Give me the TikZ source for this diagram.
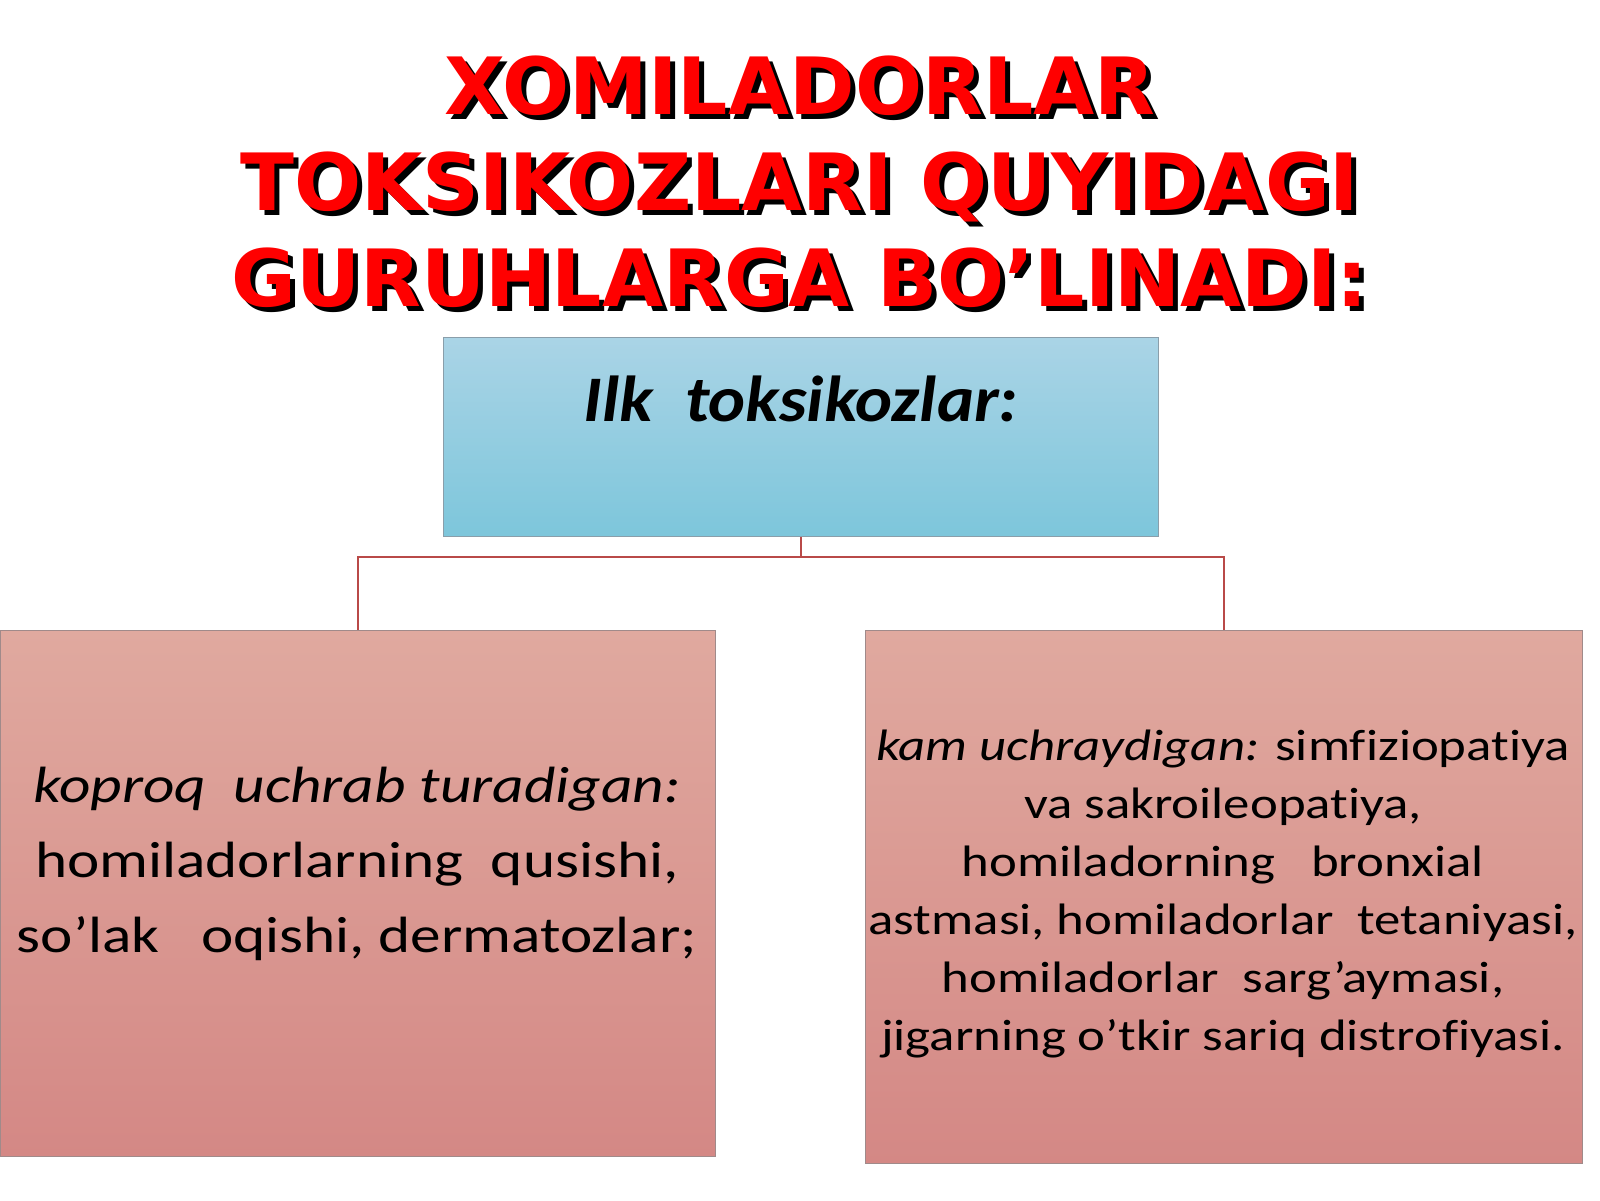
\documentclass[tikz,border=0pt]{standalone}
\usepackage{fontspec}
\usepackage{tikz}
\usetikzlibrary{positioning}
\newfontfamily\titlefont{DejaVu Sans}
\newfontfamily\boxfont{Carlito}[FakeStretch=1.2, Ligatures=NoCommon]
\newfontfamily\headfont{Carlito}[FakeStretch=1.08, Ligatures=NoCommon]
\definecolor{titlered}{HTML}{FF0000}
\definecolor{bluetop}{HTML}{AAD4E6}
\definecolor{bluebot}{HTML}{7DC6DB}
\definecolor{blueline}{HTML}{8A9EAA}
\definecolor{pinktop}{HTML}{E0A99F}
\definecolor{pinkbot}{HTML}{D48885}
\definecolor{pinkline}{HTML}{A08A8A}
\definecolor{linkred}{HTML}{B94A48}
\tikzset{
  headbox/.style={draw=blueline, line width=1.2pt, top color=bluetop, bottom color=bluebot,
    minimum width=715, minimum height=199, inner sep=0pt, anchor=north west},
  groupbox/.style={draw=pinkline, line width=1.2pt, top color=pinktop, bottom color=pinkbot,
    minimum width=715, inner sep=0pt, anchor=north west},
  link/.style={draw=linkred, line width=1.5pt},
}
\begin{document}
\begin{tikzpicture}[x=1pt,y=1pt]
\useasboundingbox (0,0) rectangle (1600,-1200);
\foreach \y/\txt [count=\i] in {-114/XOMILADORLAR, -210/TOKSIKOZLARI QUYIDAGI, -306/GURUHLARGA BO’LINADI:} {
\node[anchor=base, text=black, font=\titlefont\bfseries\fontsize{79}{79}\selectfont] (shadow\i) at (805,\y-5) {\txt};
\node[anchor=base, text=titlered, font=\titlefont\bfseries\fontsize{79}{79}\selectfont] (title\i) at (800,\y) {\txt};
}
\node[headbox] (ilk) at (443,-337) {};
\node[groupbox, minimum height=526] (left) at (0,-630) {};
\node[groupbox, minimum width=717, minimum height=533] (right) at (865,-630) {};
\node[anchor=base, font=\headfont\bfseries\itshape\fontsize{65}{65}\selectfont] (ilktext) at (801,-421) {Ilk\ \ toksikozlar:};
\node[anchor=north, inner sep=0pt, align=center, font=\boxfont\fontsize{51}{75}\selectfont] (lefttext) at (357,-767)
  {\textit{koproq\ \ uchrab turadigan:}\\ homiladorlarning\ \ qusishi,\\ so’lak\ \ \ oqishi, dermatozlar;};
\node[anchor=north, inner sep=0pt, align=center, font=\boxfont\fontsize{44}{58}\selectfont] (righttext) at (1223,-730)
  {\textit{kam uchraydigan:} simfiziopatiya\\ va sakroileopatiya,\\ homiladorning\ \ \ bronxial\\ astmasi, homiladorlar\ \ tetaniyasi,\\ homiladorlar\ \ sarg’aymasi,\\ jigarning o’tkir sariq distrofiyasi.};
\draw[link] (ilk.south) -- ++(0,-20) -| (left.north);
\draw[link] (ilk.south) -- ++(0,-20) -| (right.north);
\end{tikzpicture}
\end{document}
